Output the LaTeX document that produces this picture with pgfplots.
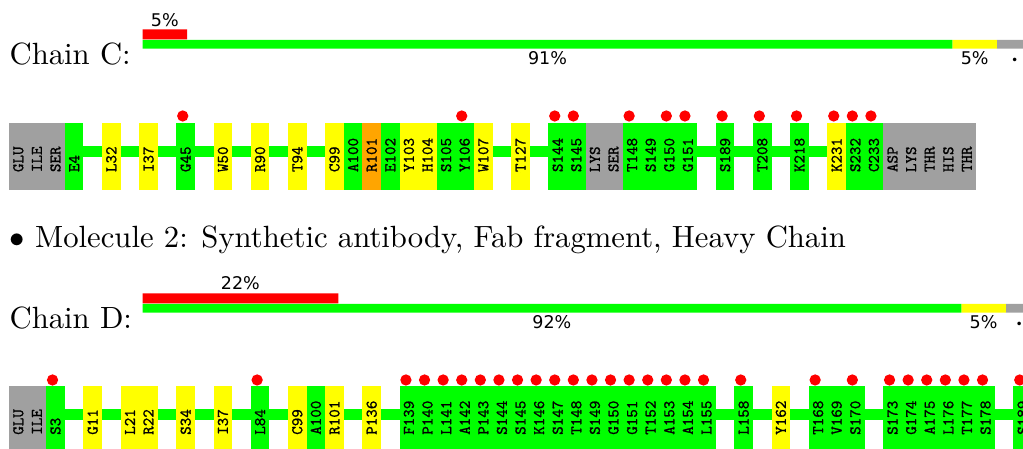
\documentclass[border=0pt]{standalone}
\usepackage{fontspec}
\usepackage{pgfplots}
\pgfplotsset{compat=1.18}
\usepackage{pgfplotstable}
\newfontfamily\dejavu{DejaVu Sans}
\newfontfamily\resmono[FakeBold=1.0]{lmmono10-regular.otf}
\definecolor{rgreen}{HTML}{00FF00}
\definecolor{ryellow}{HTML}{FFFF00}
\definecolor{rorange}{HTML}{FFA500}
\definecolor{rgray}{HTML}{A0A0A0}
\definecolor{rred}{HTML}{FF0000}
% residue box: one sequence slot wide (18.6 px), 67 px tall
\pgfdeclareplotmark{resbox}{%
  \pgfpathrectangle{\pgfqpoint{-3.045pt}{-10.912pt}}{\pgfqpoint{6.09pt}{21.824pt}}%
  \pgfusepathqfill}

% k = slot index along the row, cls = x(no model)/g/y/o, dot = outlier flag
\pgfplotstableread{
k cls lab dot
0 x GLU 0
1 x ILE 0
2 x SER 0
3 g E4 0
5 y L32 0
7 y I37 0
9 g G45 1
11 y W50 0
13 y R90 0
15 y T94 0
17 y C99 0
18 g A100 0
19 o R101 0
20 g E102 0
21 y Y103 0
22 y H104 0
23 g S105 0
24 g Y106 1
25 y W107 0
27 y T127 0
29 g S144 1
30 g S145 1
31 x LYS 0
32 x SER 0
33 g T148 1
34 g S149 0
35 g G150 1
36 g G151 1
38 g S189 1
40 g T208 1
42 g K218 1
44 y K231 1
45 g S232 1
46 g C233 1
47 x ASP 0
48 x LYS 0
49 x THR 0
50 x HIS 0
51 x THR 0
}\chainC

\pgfplotstableread{
k cls lab dot
0 x GLU 0
1 x ILE 0
2 g S3 1
4 y G11 0
6 y L21 0
7 y R22 0
9 y S34 0
11 y I37 0
13 g L84 1
15 y C99 0
16 g A100 0
17 y R101 0
19 y P136 0
21 g F139 1
22 g P140 1
23 g L141 1
24 g A142 1
25 g P143 1
26 g S144 1
27 g S145 1
28 g K146 1
29 g S147 1
30 g T148 1
31 g S149 1
32 g G150 1
33 g G151 1
34 g T152 1
35 g A153 1
36 g A154 1
37 g L155 1
39 g L158 1
41 y Y162 0
43 g T168 1
44 g V169 0
45 g S170 1
47 g S173 1
48 g G174 1
49 g A175 1
50 g L176 1
51 g T177 1
52 g S178 1
54 g S189 1
}\chainD

\tikzset{pct/.style={font=\dejavu\fontsize{5.7}{6}\selectfont, inner sep=0pt, anchor=base},
  pctdot/.style={font=\dejavu\fontsize{4}{5}\selectfont, inner sep=0pt, anchor=base}}
\pgfplotsset{
  base/.style={hide axis, clip=false, y dir=reverse, ymin=0, ymax=449,
    y=0.325733pt, at={(0,0)}, anchor=south west},
  resclasses/.style={scatter, only marks, mark=resbox,
    scatter src=explicit symbolic,
    scatter/classes={x={rgray}, g={rgreen}, y={ryellow}, o={rorange}}},
  reslabels/.style={only marks, mark=*, mark size=0pt,
    mark options={draw=none, fill=none},
    point meta=explicit symbolic, nodes near coords,
    nodes near coords align={horizontal},
    every node near coord/.append style={rotate=90, anchor=west, inner sep=0pt,
      font=\resmono\fontsize{5.3}{6}\selectfont, text=black}},
  resdots/.style={rred, only marks, mark=*, mark size=1.62pt,
    restrict expr to domain={\thisrow{dot}}{1:1}},
}

\begin{document}
\begin{tikzpicture}
\useasboundingbox (0,0) rectangle (333.22pt,146.25pt);
\clip (0,0) rectangle (333.22pt,146.25pt);

% text in pixel coordinates
\begin{axis}[base, x=0.325733pt, xmin=0, xmax=1023]
  \node[anchor=base west, inner sep=0pt] at (axis cs:9,65) {Chain C:};
  \node[anchor=base west, inner sep=0pt] at (axis cs:9,247.3) {$\bullet$ Molecule 2: Synthetic antibody, Fab fragment, Heavy Chain};
  \node[anchor=base west, inner sep=0pt] at (axis cs:9,328.3) {Chain D:};
\end{axis}

% summary bars, x in percent of the chain
\begin{axis}[base, x=2.8990pt, xmin=-16.0112, xmax=98.9326,
    xbar stacked, bar width=2.834pt]
  \addplot[fill=rgreen, draw=none] coordinates {(91,44.35) (92,308.35)};
  \addplot[fill=ryellow, draw=none] coordinates {(5,44.35) (5,308.35)};
  \addplot[fill=rgray, draw=none] coordinates {(4,44.35) (3,308.35)};
  \node[pct] at (axis cs:45.5,65) {91\%};
  \node[pct] at (axis cs:93.5,65) {5\%};
  \node[pctdot] at (axis cs:98,65) {•};
  \node[pct] at (axis cs:46,329) {92\%};
  \node[pct] at (axis cs:94.5,329) {5\%};
  \node[pctdot] at (axis cs:98.5,329) {•};
\end{axis}

\begin{axis}[base, x=2.8990pt, xmin=-16.0112, xmax=98.9326,
    xbar, bar width=3.257pt]
  \addplot[fill=rred, draw=none] coordinates {(5,34.3) (22,298.3)};
  \node[pct] at (axis cs:2.5,26.7) {5\%};
  \node[pct] at (axis cs:11,290) {22\%};
\end{axis}

% residue rows, x in sequence slots
\begin{axis}[base, x=6.0586pt, xmin=-0.48387, xmax=54.5161]
  \addplot[rgreen, line width=3.58pt] coordinates {(0,151.5) (52,151.5)};
  \addplot[rgreen, line width=3.58pt] coordinates {(0,415) (57,415)};
  \addplot[resclasses] table[x expr=\thisrow{k}+0.5, y expr=156.2, meta=cls] {\chainC};
  \addplot[resclasses] table[x expr=\thisrow{k}+0.5, y expr=419.2, meta=cls] {\chainD};
  \addplot[reslabels] table[x expr=\thisrow{k}+0.5, y expr=172.7, meta=lab] {\chainC};
  \addplot[reslabels] table[x expr=\thisrow{k}+0.5, y expr=435.4, meta=lab] {\chainD};
  \addplot[resdots] table[x expr=\thisrow{k}+0.34, y expr=116] {\chainC};
  \addplot[resdots] table[x expr=\thisrow{k}+0.34, y expr=380] {\chainD};
\end{axis}
\end{tikzpicture}
\end{document}
